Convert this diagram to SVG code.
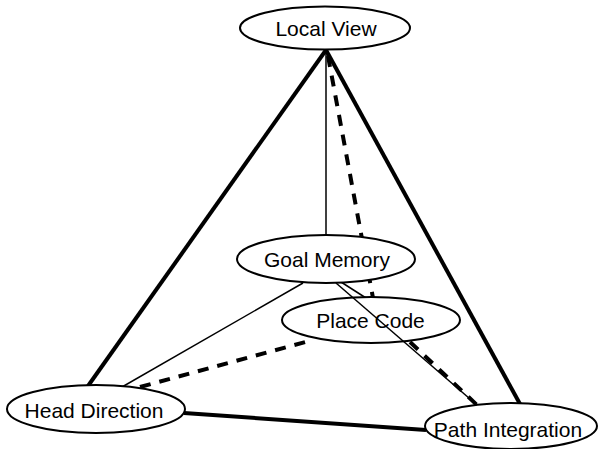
<svg xmlns="http://www.w3.org/2000/svg" width="598" height="449" viewBox="0 0 598 449">
<style>
.node ellipse{fill:#fff;stroke:#000;stroke-width:2}
.node text{font-family:"Liberation Sans",Arial,sans-serif;font-size:21px;fill:#000;text-anchor:middle}
.thick{stroke:#000;stroke-width:4;fill:none}
.thin{stroke:#000;stroke-width:1.5;fill:none}
.dash{stroke:#000;stroke-width:4;fill:none;stroke-dasharray:11 9}
</style>
<rect width="598" height="449" fill="#fff"/>
<g id="connectors">
<line class="thick" x1="326" y1="50" x2="88" y2="386"/>
<line class="thick" x1="326" y1="50" x2="520" y2="404"/>
<line class="thick" x1="184" y1="413" x2="426" y2="430"/>
<line class="thin" x1="326" y1="50" x2="326" y2="236"/>
<line class="thin" x1="303" y1="283" x2="122" y2="387"/>
<line class="thin" x1="341" y1="282" x2="366" y2="298"/>
<line class="dash" x1="328" y1="56" x2="373" y2="298"/>
<line class="dash" x1="140" y1="387" x2="313" y2="340"/>
<line class="dash" x1="410" y1="342" x2="477" y2="405"/>
</g>
<g id="local-view" class="node"><ellipse cx="325" cy="28" rx="85" ry="21.5"/><text x="326" y="35.5">Local View</text></g>
<g id="goal-memory" class="node"><ellipse cx="326" cy="259" rx="89" ry="24"/><text x="327" y="266.5">Goal Memory</text></g>
<g id="place-code" class="node"><ellipse cx="371" cy="320" rx="89" ry="23"/><text x="370.5" y="327.5">Place Code</text></g>
<g id="head-direction" class="node"><ellipse cx="96" cy="409" rx="89" ry="24"/><text x="94" y="417.5">Head Direction</text></g>
<g id="path-integration" class="node"><ellipse cx="511" cy="426" rx="86" ry="23"/><text x="508" y="436.5">Path Integration</text></g>
<g id="connectors-over">
<line class="thin" x1="336" y1="283" x2="477" y2="405"/>
</g>
</svg>
